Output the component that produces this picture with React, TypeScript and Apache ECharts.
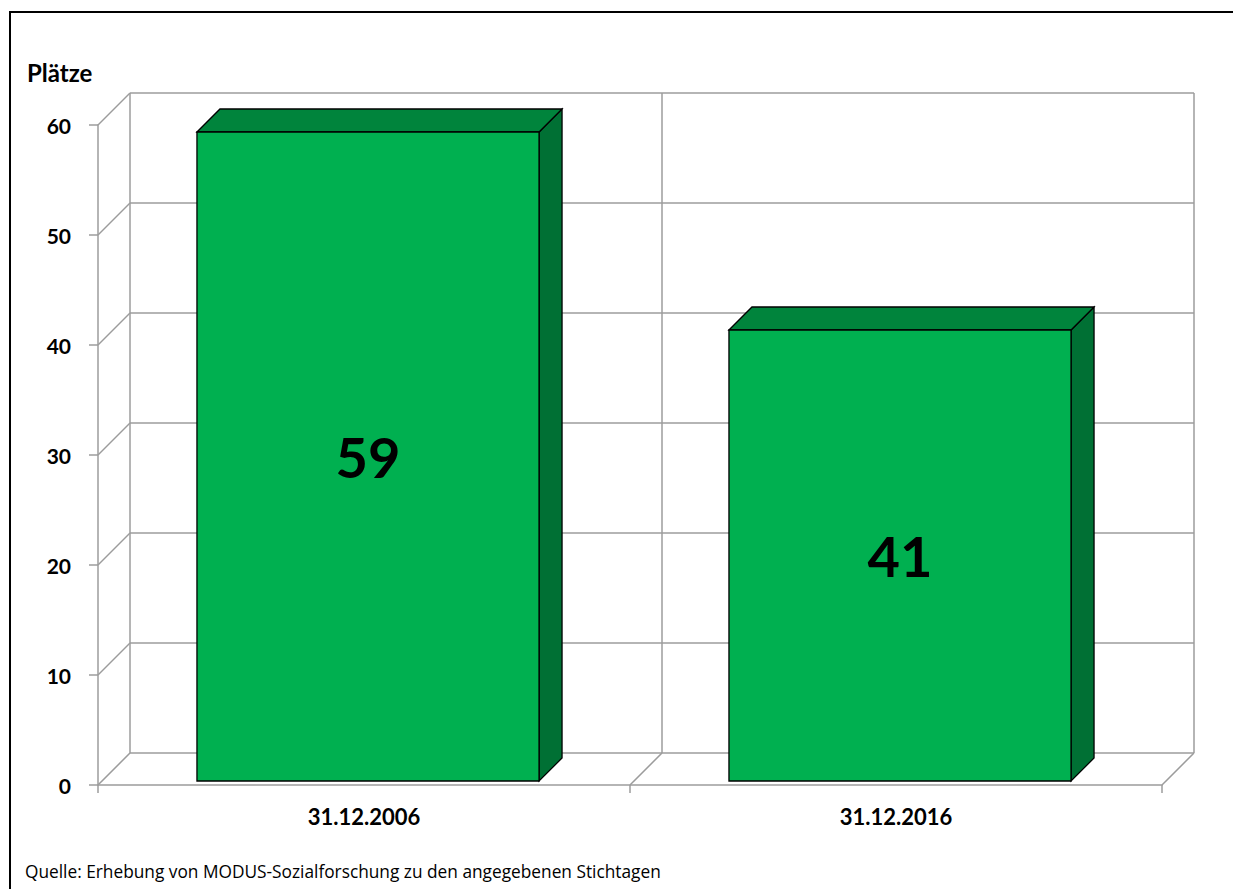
import React, { useEffect, useRef } from "react";
import * as echarts from "echarts";

const categories = ["31.12.2006", "31.12.2016"];
const values = [59, 41];
const yTicks = [0, 10, 20, 30, 40, 50, 60];
const yAxisTitle = "Plätze";
const sourceText = "Quelle: Erhebung von MODUS-Sozialforschung zu den angegebenen Stichtagen";

const FONT = "Lato, 'Open Sans', sans-serif";
const WALL = 32;
const BAR_FRONT = 4;
const BAR_DEPTH = 23;
const GRID_COLOR = "#9c9c9c";

export default function App() {
  const ref = useRef<HTMLDivElement>(null);
  useEffect(() => {
    if (!ref.current) return;
    const chart = echarts.init(ref.current, undefined, { renderer: "svg" });
    const option: any = {
      animation: false,
      backgroundColor: "#ffffff",
      grid: { left: 98, right: 71, top: 125, bottom: 104 },
      xAxis: {
        type: "category",
        data: categories,
        boundaryGap: true,
        axisLine: { show: true, lineStyle: { color: GRID_COLOR, width: 1.5 } },
        axisTick: { show: true, length: 8, lineStyle: { color: GRID_COLOR, width: 1.5 } },
        axisLabel: { margin: 20, fontFamily: FONT, fontWeight: "bold", fontSize: 22, color: "#000" },
        splitLine: { show: false },
      },
      yAxis: {
        type: "value",
        min: 0,
        max: 60,
        interval: 10,
        axisLine: { show: true, lineStyle: { color: GRID_COLOR, width: 1.5 } },
        axisTick: { show: true, length: 9, lineStyle: { color: GRID_COLOR, width: 1.5 } },
        axisLabel: { margin: 27, fontFamily: FONT, fontWeight: "bold", fontSize: 21, color: "#000" },
        splitLine: { show: false },
      },
      graphic: [
        {
          type: "line",
          shape: { x1: 10, y1: 11, x2: 10, y2: 900 },
          style: { stroke: "#000", lineWidth: 2 },
          z: 100,
        },
        {
          type: "line",
          shape: { x1: 9, y1: 12, x2: 1240, y2: 12 },
          style: { stroke: "#000", lineWidth: 2 },
          z: 100,
        },
        {
          type: "text",
          x: 27,
          y: 72,
          style: {
            text: yAxisTitle,
            fontFamily: FONT,
            fontWeight: "bold",
            fontSize: 24,
            fill: "#000",
            verticalAlign: "middle",
            align: "left",
          },
        },
        {
          type: "text",
          x: 25,
          y: 871,
          style: {
            text: sourceText,
            fontFamily: "'Open Sans', Lato, sans-serif",
            fontSize: 17.3,
            fill: "#000",
            verticalAlign: "middle",
            align: "left",
          },
        },
      ],
      series: [
        {
          type: "custom",
          name: "wall",
          z: 1,
          silent: true,
          data: [[0, 0]],
          renderItem: (params: any, api: any) => {
            const cs = params.coordSys;
            const x0 = cs.x;
            const x1 = cs.x + cs.width;
            const xm = cs.x + cs.width / 2;
            const yTop = api.coord([0, yTicks[yTicks.length - 1]])[1];
            const yBot = api.coord([0, yTicks[0]])[1];
            const ls = { stroke: GRID_COLOR, lineWidth: 1.5 };
            const children: any[] = [];
            yTicks.forEach((v) => {
              const y = api.coord([0, v])[1];
              children.push({
                type: "line",
                shape: { x1: x0, y1: y, x2: x0 + WALL, y2: y - WALL },
                style: ls,
              });
              children.push({
                type: "line",
                shape: { x1: x0 + WALL, y1: y - WALL, x2: x1 + WALL, y2: y - WALL },
                style: ls,
              });
            });
            [x0, xm, x1].forEach((x) => {
              children.push({
                type: "line",
                shape: { x1: x + WALL, y1: yTop - WALL, x2: x + WALL, y2: yBot - WALL },
                style: ls,
              });
            });
            [xm, x1].forEach((x) => {
              children.push({
                type: "line",
                shape: { x1: x, y1: yBot, x2: x + WALL, y2: yBot - WALL },
                style: ls,
              });
            });
            return { type: "group", children };
          },
        },
        {
          type: "custom",
          name: "Plätze",
          z: 5,
          data: values.map((v, i) => [i, v]),
          renderItem: (params: any, api: any) => {
            const idx = api.value(0);
            const val = api.value(1);
            const top = api.coord([idx, val]);
            const bot = api.coord([idx, 0]);
            const catW = api.size([1, 0])[0];
            const bw = catW * 0.643;
            const L = top[0] - bw / 2 + BAR_FRONT;
            const R = top[0] + bw / 2 + BAR_FRONT;
            const T = top[1] - BAR_FRONT;
            const B = bot[1] - BAR_FRONT;
            const d = BAR_DEPTH;
            const stroke = { stroke: "#000", lineWidth: 1.3 };
            return {
              type: "group",
              children: [
                {
                  type: "polygon",
                  shape: { points: [[R, T], [R + d, T - d], [R + d, B - d], [R, B]] },
                  style: { fill: "#007034", ...stroke },
                },
                {
                  type: "polygon",
                  shape: { points: [[L, T], [L + d, T - d], [R + d, T - d], [R, T]] },
                  style: { fill: "#00843c", ...stroke },
                },
                {
                  type: "rect",
                  shape: { x: L, y: T, width: R - L, height: B - T },
                  style: { fill: "#00b050", ...stroke },
                },
                {
                  type: "text",
                  x: (L + R) / 2,
                  y: (T + B) / 2,
                  style: {
                    text: String(val),
                    fontFamily: FONT,
                    fontWeight: "bold",
                    fontSize: 56,
                    fill: "#000",
                    align: "center",
                    verticalAlign: "middle",
                  },
                },
              ],
            };
          },
        },
      ],
    };
    chart.setOption(option);
    return () => chart.dispose();
  }, []);
  return (
    <div
      ref={ref}
      style={{ position: "fixed", left: 0, top: 0, width: 1233, height: 889 }}
    />
  );
}
